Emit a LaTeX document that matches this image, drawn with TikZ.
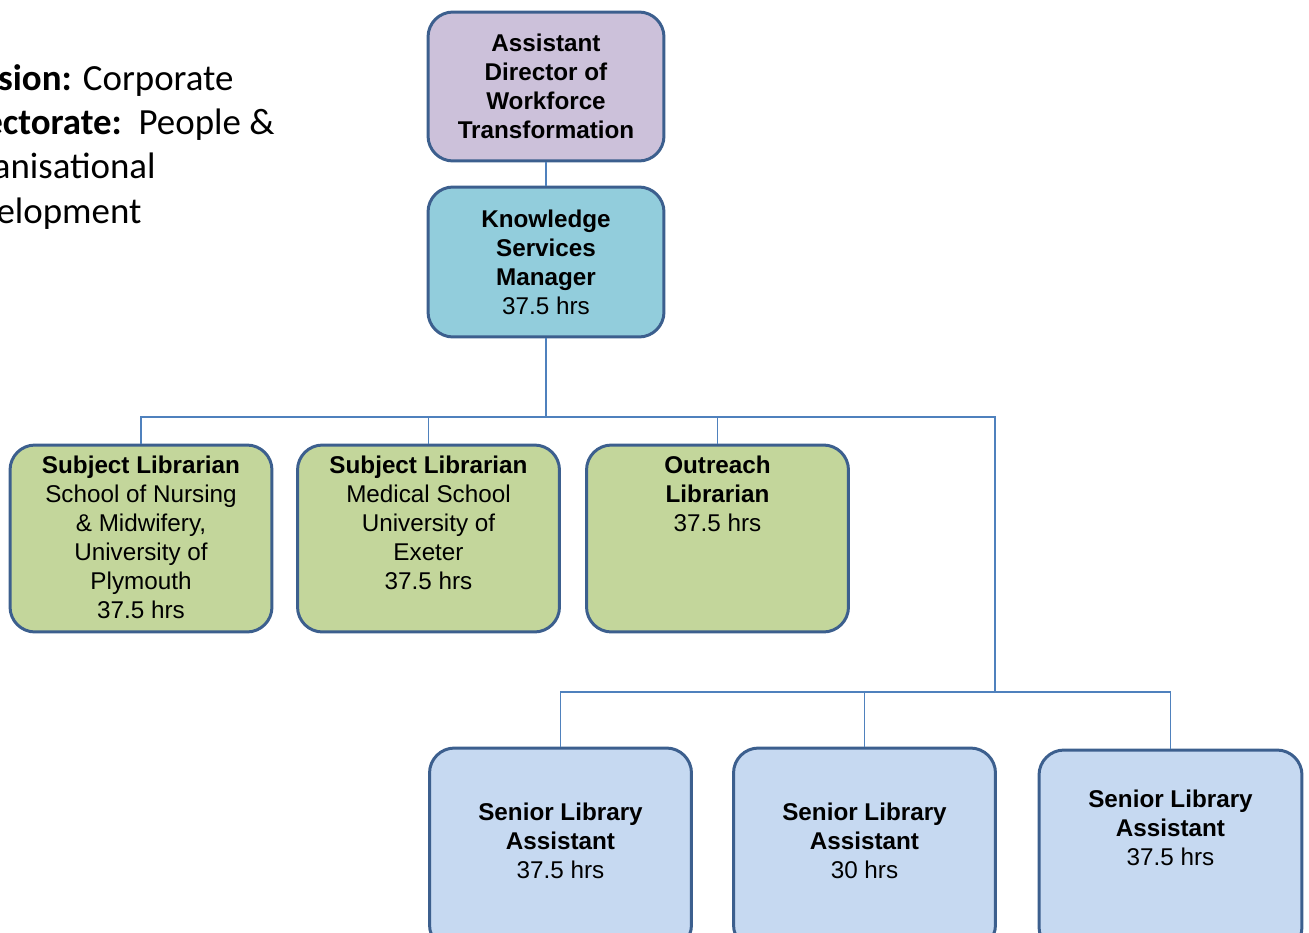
\documentclass[tikz,border=0pt]{standalone}
\usepackage{fontspec}
\setmainfont{Liberation Sans}
\newfontfamily\calibri{Carlito}
\usetikzlibrary{positioning}

\definecolor{lavender}{HTML}{CCC1DA}
\definecolor{teal}{HTML}{92CDDC}
\definecolor{olive}{HTML}{C3D69B}
\definecolor{pale}{HTML}{C6D9F1}
\definecolor{rim}{HTML}{3C5F8E}
\definecolor{wire}{HTML}{4F81BD}

\begin{document}
\begin{tikzpicture}[
    x=0.02cm, y=-0.02cm,
    every node/.style={font=\fontsize{13.8}{16.5}\selectfont, align=center},
    post/.style={draw=rim, line width=1.7pt, rounded corners=0.5cm, inner sep=0pt},
    head/.style={post, fill=lavender, minimum width=4.72cm, minimum height=2.98cm},
    mgr/.style={post, fill=teal, minimum width=4.72cm, minimum height=3cm},
    lib/.style={post, fill=olive, minimum width=5.24cm, minimum height=3.74cm},
    asst/.style={post, fill=pale, minimum width=5.24cm, minimum height=4.04cm},
    txt/.style={inner sep=0pt},
    link/.style={draw=wire, line width=1.1pt}
]
    \useasboundingbox (0,0) rectangle (1309,933);
    \clip (0,0) rectangle (1309,933);

    % side note
    \node[txt, anchor=north west, align=left, font=\calibri\fontsize{21}{25.2}\selectfont] (note) at (-61,64)
        {\textbf{Division:} Corporate\\ \textbf{Directorate:}\ \ People \&\\ Organisational\\ Development};

    % top of the tree
    \node[head] (adw) at (546,86.5) {\textbf{Assistant}\\ \textbf{Director of}\\ \textbf{Workforce}\\ \textbf{Transformation}};
    \node[mgr] (ksm) at (546,262) {\textbf{Knowledge}\\ \textbf{Services}\\ \textbf{Manager}\\ 37.5 hrs};

    % librarians
    \node[lib] (sl1) at (141,538.5) {};
    \node[lib] (sl2) at (428.5,538.5) {};
    \node[lib] (out) at (717.5,538.5) {};
    \node[txt, anchor=north] (sl1t) at ([yshift=-0.24cm]sl1.north)
        {\textbf{Subject Librarian}\\ School of Nursing\\ \& Midwifery,\\ University of\\ Plymouth\\ 37.5 hrs};
    \node[txt, anchor=north] (sl2t) at ([yshift=-0.24cm]sl2.north)
        {\textbf{Subject Librarian}\\ Medical School\\ University of\\ Exeter\\ 37.5 hrs};
    \node[txt, anchor=north] (outt) at ([yshift=-0.24cm]out.north)
        {\textbf{Outreach}\\ \textbf{Librarian}\\ 37.5 hrs};

    % assistants
    \node[asst] (sa1) at (560.5,849) {};
    \node[asst] (sa2) at (864.5,849) {};
    \node[asst, minimum width=5.26cm] (sa3) at (1170.5,851) {};
    \node[txt] (sa1t) at ([yshift=-1.88cm]sa1.north) {\textbf{Senior Library}\\ \textbf{Assistant}\\ 37.5 hrs};
    \node[txt] (sa2t) at ([yshift=-1.88cm]sa2.north) {\textbf{Senior Library}\\ \textbf{Assistant}\\ 30 hrs};
    \node[txt] (sa3t) at ([yshift=-1.58cm]sa3.north) {\textbf{Senior Library}\\ \textbf{Assistant}\\ 37.5 hrs};

    % connectors
    \coordinate (bus1) at (546,417);
    \coordinate (bus2) at (995,692);
    \draw[link] (adw) -- (ksm);
    \draw[link] (ksm.south) -- (bus1);
    \draw[link] (sl1.north) |- (bus1);
    \draw[link] (sl2.north) |- (bus1);
    \draw[link] (out.north) |- (bus1);
    \draw[link] (bus1) -| (bus2);
    \draw[link] (sa1.north) |- (bus2);
    \draw[link] (sa2.north) |- (bus2);
    \draw[link] (sa3.north) |- (bus2);
\end{tikzpicture}
\end{document}
